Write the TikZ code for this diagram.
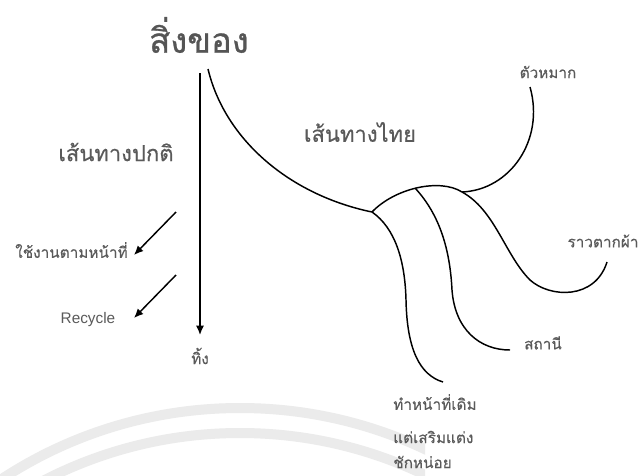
\documentclass[tikz,border=0pt]{standalone}
\usepackage{fontspec}
\setmainfont{Liberation Sans}
\newfontfamily\thaib[Script=Thai,FakeBold=0.8]{Loma}
\newfontfamily\thaim[Script=Thai,FakeBold=0.3]{Loma}
\usetikzlibrary{arrows.meta}
\definecolor{txt}{HTML}{5A5A5A}
\definecolor{ttl}{HTML}{555555}
\definecolor{wm}{HTML}{EBEBEB}
\tikzset{
  lbl/.style={text=txt,font=\thaim\fontsize{11.5}{14}\selectfont,inner sep=0pt},
  sect/.style={text=txt,font=\thaim\fontsize{16.5}{20}\selectfont,inner sep=0pt},
  ttlstyle/.style={text=ttl,font=\thaib\fontsize{26}{30}\selectfont,inner sep=0pt},
  latinlbl/.style={text=txt,font=\fontsize{11.5}{13}\selectfont,inner sep=0pt},
  curve/.style={line width=1.1pt,black},
  arr/.style={line width=1.1pt,black,-{Latex[length=7pt,width=6pt]}},
}
\begin{document}
\begin{tikzpicture}[x=0.75pt,y=-0.75pt]
\useasboundingbox (0,0) rectangle (641,475);
\fill[white] (0,0) rectangle (641,475);
% watermark arcs
\begin{scope}
\clip (0,380) rectangle (425,475);
\draw[wm,line width=7.5pt] (240,843) circle[radius=435];
\draw[wm,line width=7.5pt] (240,861) circle[radius=428];
\end{scope}
% title and sections
\node[ttlstyle] (title) at (199,35) {สิ่งของ};
\node[sect] (normal) at (116,152) {เส้นทางปกติ};
\node[sect] (thaiway) at (360,132) {เส้นทางไทย};
% left side
\coordinate (vtop) at (200,73);
\coordinate (vbot) at (200,335);
\draw[arr] (vtop) -- (vbot);
\node[lbl] (throw) at (200,356) {ทิ้ง};
\coordinate (a1s) at (176,212);
\coordinate (a1e) at (134,255);
\coordinate (a2s) at (176,275);
\coordinate (a2e) at (134,318);
\draw[arr] (a1s) -- (a1e);
\draw[arr] (a2s) -- (a2e);
\node[lbl,anchor=east] (use) at (128,250) {ใช้งานตามหน้าที่};
\node[latinlbl] (recycle) at (88,320) {Recycle};
% thai way curves
\coordinate (m0) at (208,69);
\coordinate (j) at (372,212);
\coordinate (j2) at (415,188);
\coordinate (j3) at (462,192);
\draw[curve] (m0) .. controls (225,140) and (290,195) .. (j);
\draw[curve] (j) .. controls (395,188) and (440,178) .. (j3);
\coordinate (hookend) at (530,87);
\draw[curve] (j3) .. controls (510,190) and (545,140) .. (hookend);
\coordinate (r1) at (530,280);
\coordinate (rend) at (607,262);
\draw[curve] (j3) .. controls (495,210) and (505,255) .. (r1) .. controls (550,298) and (595,300) .. (rend);
\coordinate (b1) at (406,300);
\coordinate (b1end) at (443,382);
\draw[curve] (j) .. controls (395,228) and (405,260) .. (b1) .. controls (407,350) and (420,375) .. (b1end);
\coordinate (b2) at (452,290);
\coordinate (b2end) at (510,350);
\draw[curve] (j2) .. controls (440,215) and (450,250) .. (b2) .. controls (455,330) and (480,350) .. (b2end);
% labels
\node[lbl] (betel) at (548,72) {ตัวหมาก};
\node[lbl] (cloth) at (603,241) {ราวตากผ้า};
\node[lbl] (station) at (543,343) {สถานี};
\node[lbl,anchor=west] (same1) at (393,402) {ทำหน้าที่เดิม};
\node[lbl,anchor=west] (same2) at (393,437) {แต่เสริมแต่ง};
\node[lbl,anchor=west] (same3) at (393,462) {ชักหน่อย};
\end{tikzpicture}
\end{document}
